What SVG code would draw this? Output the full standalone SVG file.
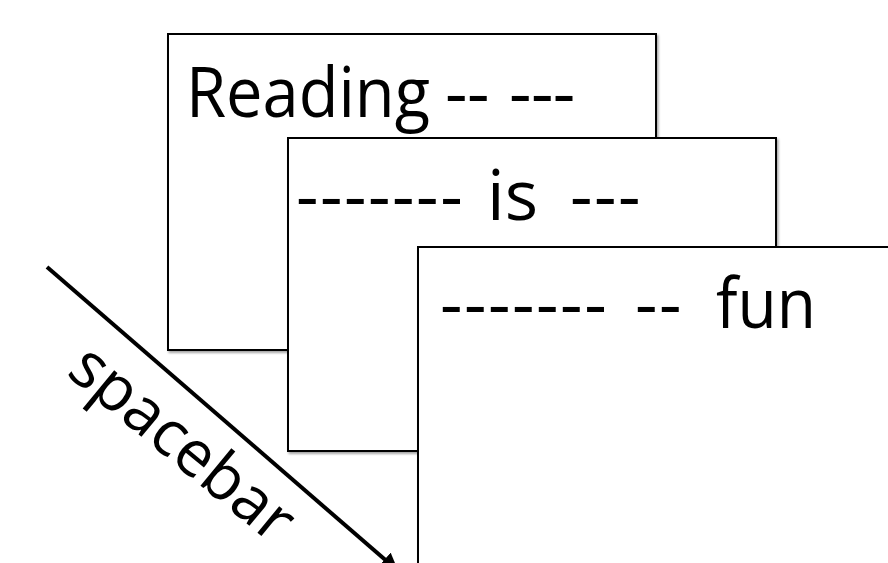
<svg xmlns="http://www.w3.org/2000/svg" width="888" height="563" viewBox="0 0 888 563">
  <defs>
    <filter id="sh" x="-5%" y="-5%" width="115%" height="115%">
      <feDropShadow dx="1.5" dy="2" stdDeviation="1.2" flood-color="#000" flood-opacity="0.35"/>
    </filter>
    <marker id="arr" viewBox="0 0 10 10" refX="9" refY="5" markerWidth="4.5" markerHeight="4.5" orient="auto" markerUnits="strokeWidth">
      <path d="M0,0 L10,5 L0,10 Z" fill="#000"/>
    </marker>
  </defs>
  <style>
    .card { fill: #fff; stroke: #000; stroke-width: 2; }
    .t { font-family: "Open Sans", "Noto Sans", sans-serif; font-size: 70px; fill: #000; }
    .lbl { font-family: "Open Sans", "Noto Sans", sans-serif; font-size: 64px; fill: #000; }
    .conn { stroke: #000; stroke-width: 4; fill: none; }
  </style>
  <rect width="888" height="563" fill="#fff"/>

  <g id="card1">
    <rect class="card" x="168" y="34" width="488" height="316" filter="url(#sh)"/>
    <text class="t" y="117"><tspan x="186" textLength="244" lengthAdjust="spacingAndGlyphs">Reading</tspan><tspan x="445" letter-spacing="-0.6">--</tspan><tspan x="509" letter-spacing="-0.6">---</tspan></text>
  </g>

  <g id="card2">
    <rect class="card" x="288" y="138" width="488" height="313" filter="url(#sh)"/>
    <text class="t" y="220"><tspan x="296" letter-spacing="1.5">-------</tspan><tspan x="487">is</tspan><tspan x="570" letter-spacing="1.5">---</tspan></text>
  </g>

  <g id="card3">
    <rect class="card" x="418" y="247" width="520" height="380" filter="url(#sh)"/>
    <text class="t" y="328"><tspan x="440" letter-spacing="1.5">-------</tspan><tspan x="635" letter-spacing="1.5">--</tspan><tspan x="716" textLength="100" lengthAdjust="spacingAndGlyphs">fun</tspan></text>
  </g>

  <g id="connectors">
    <path class="conn" d="M47,267 L397,570" marker-end="url(#arr)"/>
  </g>

  <g id="label-spacebar">
    <text class="lbl" transform="translate(65,374) rotate(39.5)" x="0" y="0" textLength="270" lengthAdjust="spacingAndGlyphs">spacebar</text>
  </g>
</svg>
